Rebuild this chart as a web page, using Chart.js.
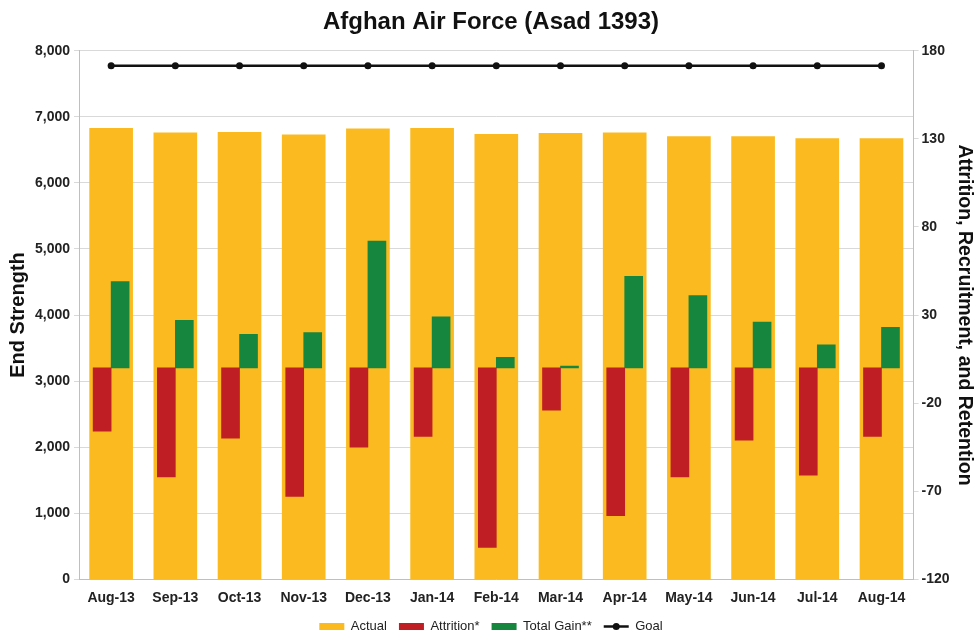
<!DOCTYPE html>
<html>
<head>
<meta charset="utf-8">
<script src="https://cdn.jsdelivr.net/npm/chart.js@4"></script>
<style>
  html, body { margin: 0; padding: 0; background: #fff; }
  #wrap { width: 979px; height: 634px; }
</style>
</head>
<body>
<div id="wrap"><canvas id="myChart" width="979" height="634"></canvas></div>
<script>
const ctx = document.getElementById("myChart").getContext("2d");

// months
const labels = ["Aug-13", "Sep-13", "Oct-13", "Nov-13", "Dec-13", "Jan-14", "Feb-14",
  "Mar-14", "Apr-14", "May-14", "Jun-14", "Jul-14", "Aug-14"];

// end strength (left axis)
const actual = [6827, 6758, 6767, 6728, 6818, 6827, 6737, 6752, 6758, 6702, 6702, 6672, 6672];
const goal = [7775, 7775, 7775, 7775, 7775, 7775, 7775, 7775, 7775, 7775, 7775, 7775, 7775];

// right axis
const attrition = [-36, -62, -40, -73, -45, -39, -102, -24, -84, -62, -41, -61, -39];
const totalGain = [49, 27, 19, 20, 72, 29, 6, 1, 52, 41, 26, 13, 23];

const leftTicks = [0, 1000, 2000, 3000, 4000, 5000, 6000, 7000, 8000];
const rightTicks = [-120, -70, -20, 30, 80, 130, 180];

const FONT = "'Liberation Sans', Arial, sans-serif";

// little dot on the Goal legend line
const goalDot = {
  id: "goalDot",
  afterDraw(chart) {
    const lg = chart.legend;
    if (!lg || !lg.legendHitBoxes) return;
    const i = lg.legendItems.findIndex(it => it.text === "Goal");
    if (i < 0) return;
    const hb = lg.legendHitBoxes[i];
    const c = chart.ctx;
    c.save();
    c.fillStyle = "#111";
    c.beginPath();
    c.arc(hb.left + 12.5, hb.top + hb.height / 2, 3.5, 0, Math.PI * 2);
    c.fill();
    c.restore();
  }
};

const data = {
  labels: labels,
  datasets: [
    {
      label: "Actual",
      data: actual,
      backgroundColor: "rgb(251, 187, 32)",
      yAxisID: "y",
      grouped: false,
      barThickness: 43,
      order: 3,
    },
    {
      label: "Attrition*",
      data: attrition,
      backgroundColor: "rgb(190, 30, 36)",
      yAxisID: "y1",
      barThickness: 18,
      order: 1,
    },
    {
      label: "Total Gain**",
      data: totalGain,
      backgroundColor: "rgb(22, 134, 62)",
      yAxisID: "y1",
      barThickness: 18,
      order: 1,
    },
    {
      label: "Goal",
      type: "line",
      data: goal,
      borderColor: "#111",
      backgroundColor: "#111",
      borderWidth: 2.5,
      pointRadius: 3.5,
      pointBorderWidth: 0,
      pointBackgroundColor: "#111",
      yAxisID: "y",
      order: 0,
    },
  ],
};

const tickFont = { family: FONT, size: 14, weight: "bold" };

const config = {
  type: "bar",
  data: data,
  options: {
    responsive: false,
    animation: false,
    layout: { padding: { left: 0, right: -3, top: 4, bottom: -9 } },
    plugins: {
      title: {
        display: true,
        text: "Afghan Air Force (Asad 1393)",
        color: "#111",
        font: { family: FONT, size: 24, weight: "bold" },
        padding: { top: 4, bottom: 14 },
      },
      legend: {
        position: "bottom",
        labels: {
          usePointStyle: true,
          pointStyleWidth: 25,
          boxHeight: 7,
          color: "#222",
          font: { family: FONT, size: 13 },
          padding: 12,
          sort: (a, b) => a.datasetIndex - b.datasetIndex,
          generateLabels: (chart) => {
            const items = Chart.defaults.plugins.legend.labels.generateLabels(chart);
            items.forEach(it => {
              if (it.text === "Goal") {
                it.pointStyle = "line";
                it.lineWidth = 2.5;
                it.strokeStyle = "#111";
              } else {
                it.pointStyle = "rect";
              }
            });
            return items;
          },
        },
      },
      tooltip: { enabled: false },
    },
    scales: {
      x: {
        type: "category",
        offset: true,
        grid: { display: false, drawTicks: false },
        border: { color: "#bfbfbf" },
        ticks: { color: "#222", font: tickFont, maxRotation: 0, padding: 10.5 },
        afterFit: (s) => { s.height -= 9; },
      },
      y: {
        position: "left",
        min: 0,
        max: 8000,
        afterBuildTicks: (s) => { s.ticks = leftTicks.map(v => ({ value: v })); },
        grid: { color: "#d9d9d9", tickLength: 5 },
        border: { color: "#bfbfbf" },
        ticks: {
          color: "#222",
          font: tickFont,
          padding: 4,
          callback: (v) => v.toLocaleString("en-US"),
        },
        title: {
          display: true,
          text: "End Strength",
          color: "#111",
          font: { family: FONT, size: 20, weight: "bold" },
          padding: { top: 6, bottom: 1 },
        },
      },
      y1: {
        position: "right",
        min: -120,
        max: 180,
        afterBuildTicks: (s) => { s.ticks = rightTicks.map(v => ({ value: v })); },
        grid: { drawOnChartArea: false, color: "#d9d9d9", tickLength: 5 },
        border: { color: "#bfbfbf" },
        ticks: { color: "#222", font: tickFont, padding: 3 },
        title: {
          display: true,
          text: "Attrition, Recruitment, and Retention",
          color: "#111",
          font: { family: FONT, size: 19.5, weight: "bold" },
          padding: { top: 6, bottom: 0 },
        },
      },
    },
  },
  plugins: [goalDot],
};

new Chart(ctx, config);
</script>
</body>
</html>
